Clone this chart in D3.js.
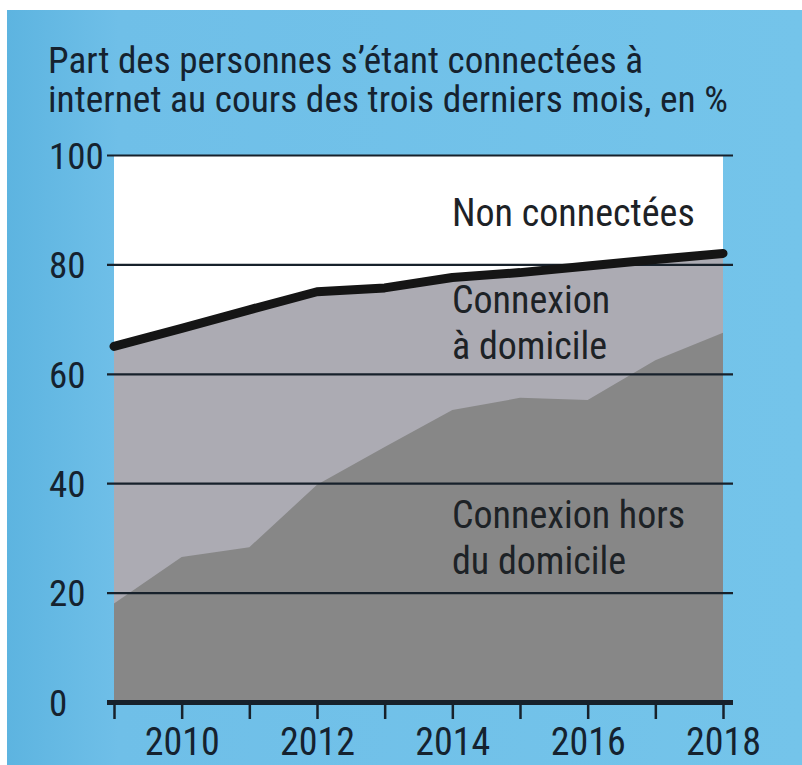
<!DOCTYPE html>
<html>
<head>
<meta charset="utf-8">
<script src="https://cdn.jsdelivr.net/npm/d3@7"></script>
<style>
  body { margin: 0; background: #fff; }
  text { font-family: "Liberation Sans Narrow", "Roboto Condensed", "Liberation Sans", sans-serif; fill: #15222f; }
</style>
</head>
<body>
<svg width="802" height="765"></svg>
<script>
// years on the x axis
let years = [2009, 2010, 2011, 2012, 2013, 2014, 2015, 2016, 2017, 2018];
// share of people connected (any place), %
let totalConnected = [65, 68.3, 71.7, 75, 75.7, 77.6, 78.5, 79.7, 80.9, 82];
// share connected outside home, %
let outsideHome = [18, 26.5, 28.3, 39.7, 46.6, 53.4, 55.6, 55.2, 62.5, 67.5];
let yTicks = [0, 20, 40, 60, 80, 100];
let xLabels = [2010, 2012, 2014, 2016, 2018];
let titleLines = ["Part des personnes s\u2019\u00e9tant connect\u00e9es \u00e0",
                  "internet au cours des trois derniers mois, en %"];

let svg = d3.select("svg");

let defs = svg.append("defs");
let grad = defs.append("linearGradient").attr("id", "bg")
    .attr("x1", "0").attr("x2", "1").attr("y1", "0").attr("y2", "0");
grad.append("stop").attr("offset", "0").attr("stop-color", "#5db4e0");
grad.append("stop").attr("offset", "0.14").attr("stop-color", "#6fbfe8");
grad.append("stop").attr("offset", "1").attr("stop-color", "#74c4ea");

svg.append("rect")
    .attr("x", 7).attr("y", 10)
    .attr("width", 795).attr("height", 755)
    .attr("fill", "url(#bg)");

let x = d3.scaleLinear().domain([2009, 2018]).range([114, 723]);
let y = d3.scaleLinear().domain([0, 100]).range([702, 155]);

let data = years.map((yr, i) => ({year: yr, total: totalConnected[i], outside: outsideHome[i]}));

// plot background: "non connectées"
svg.append("rect")
    .attr("x", x(2009)).attr("y", y(100))
    .attr("width", x(2018) - x(2009)).attr("height", y(0) - y(100))
    .attr("fill", "#ffffff");

let areaTotal = d3.area()
    .x(d => x(d.year))
    .y0(y(0))
    .y1(d => y(d.total));

let areaOutside = d3.area()
    .x(d => x(d.year))
    .y0(y(0))
    .y1(d => y(d.outside));

svg.append("path").datum(data)
    .attr("d", areaTotal)
    .attr("fill", "#acabb3");

svg.append("path").datum(data)
    .attr("d", areaOutside)
    .attr("fill", "#878787");

// gridlines + y labels
let gridLeft = 107, gridRight = 733;
let yAxis = svg.append("g")
    .attr("transform", "translate(" + gridLeft + ",0)")
    .call(d3.axisLeft(y).tickValues(yTicks).tickSize(-(gridRight - gridLeft)).tickFormat(d3.format("d")));
yAxis.select(".domain").remove();
yAxis.selectAll(".tick line")
    .attr("stroke", "#17212b")
    .attr("stroke-width", d => d === 0 ? 5 : 2.2);
yAxis.selectAll(".tick text")
    .attr("x", 49 - gridLeft)
    .attr("dy", "0.36em")
    .style("text-anchor", "start")
    .style("font-size", "37px");

// x axis ticks
let xAxis = svg.append("g")
    .attr("transform", "translate(0," + y(0) + ")")
    .call(d3.axisBottom(x).tickValues(years).tickSize(17)
      .tickFormat(d => xLabels.includes(d) ? d : ""));
xAxis.select(".domain").remove();
xAxis.selectAll(".tick line")
    .attr("stroke", "#17212b")
    .attr("stroke-width", 2.5);
xAxis.selectAll(".tick text")
    .attr("y", 53)
    .attr("dy", 0)
    .style("font-size", "38px");

// total connected line
svg.append("path").datum(data)
    .attr("d", d3.line().x(d => x(d.year)).y(d => y(d.total)))
    .attr("fill", "none")
    .attr("stroke", "#151515")
    .attr("stroke-width", 9)
    .attr("stroke-linecap", "round")
    .attr("stroke-linejoin", "round");

// title
let titleWidths = [595, 680];
svg.append("g").selectAll("text")
    .data(titleLines)
  .enter().append("text")
    .attr("x", 48)
    .attr("y", (d, i) => 73 + i * 39)
    .attr("textLength", (d, i) => titleWidths[i])
    .attr("lengthAdjust", "spacingAndGlyphs")
    .style("font-size", "36px")
    .text(d => d);

// area labels
let labels = [
  {lines: ["Non connect\u00e9es"], y: 226},
  {lines: ["Connexion", "\u00e0 domicile"], y: 313},
  {lines: ["Connexion hors", "du domicile"], y: 528}
];
labels.forEach(l => {
  svg.append("g").selectAll("text")
      .data(l.lines)
    .enter().append("text")
      .attr("x", 452)
      .attr("y", (d, i) => l.y + i * 46)
      .style("font-size", "38px")
      .style("fill", "#1d2226")
      .text(d => d);
});
</script>
</body>
</html>
